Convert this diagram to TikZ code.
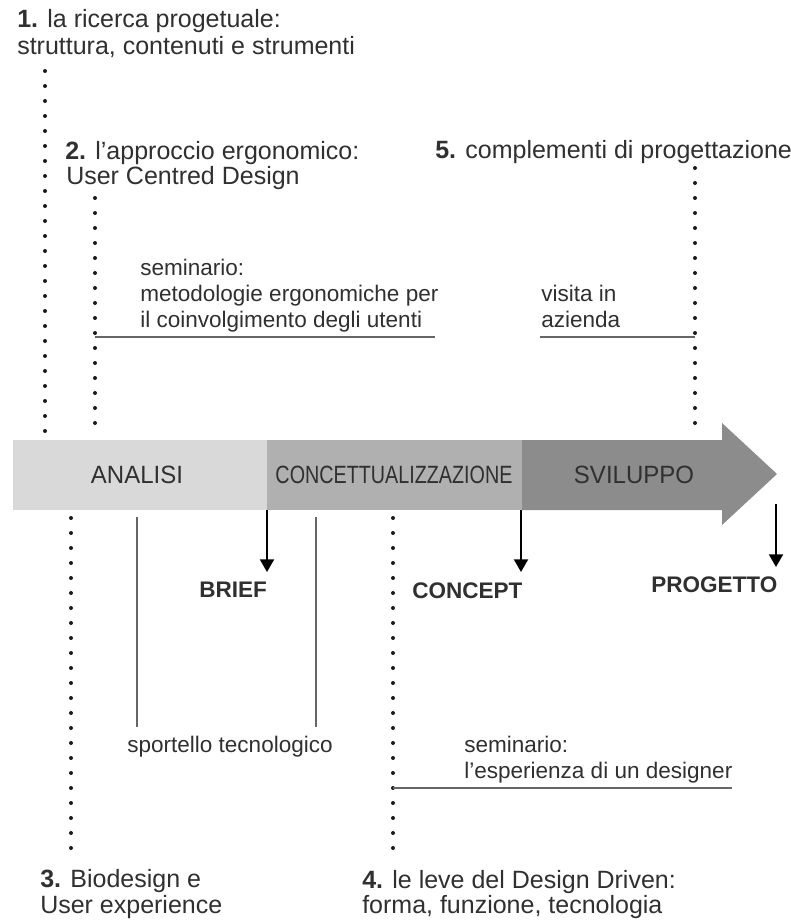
\documentclass[tikz,border=0pt]{standalone}
\usepackage{fontspec}
\setmainfont{Liberation Sans}
\newfontfamily\narrowfont[FakeStretch=0.79]{Liberation Sans}
\newfontfamily\semifont[FakeStretch=0.96]{Liberation Sans}
\usetikzlibrary{arrows.meta}
\definecolor{txt}{HTML}{303030}
\definecolor{phaseA}{HTML}{D9D9D9}
\definecolor{phaseB}{HTML}{B0B0B0}
\definecolor{phaseC}{HTML}{8C8C8C}
\definecolor{thinline}{HTML}{666666}
\definecolor{dotcol}{HTML}{1A1A1A}
\begin{document}
\begin{tikzpicture}[x=0.75pt,y=-0.75pt,
  big/.style={anchor=base west, inner sep=0pt, text=txt, font=\fontsize{18.75}{22}\selectfont},
  small/.style={anchor=base west, inner sep=0pt, text=txt, font=\fontsize{16.9}{20}\selectfont},
  bandlabel/.style={anchor=base, inner sep=0pt, text=txt, font=\fontsize{18.75}{22}\selectfont},
  result/.style={anchor=base west, inner sep=0pt, text=txt, font=\fontsize{16.9}{20}\selectfont\bfseries},
  dots/.style={draw=dotcol, line width=3pt, line cap=round, dash pattern=on 0pt off 11.25pt},
  thin/.style={draw=thinline, line width=1pt},
  outarrow/.style={draw=black, line width=1.5pt, -{Triangle[width=10.5pt,length=9.5pt]}}
]
\useasboundingbox[fill=white] (0,0) rectangle (790,920);

% ---- top labels
\node[big] (t1a) at (17,28) {\textbf{1.} la ricerca progetuale:};
\node[big] (t1b) at (17,55) {struttura, contenuti e strumenti};
\node[big] (t2a) at (65,160) {\textbf{2.} l’approccio ergonomico:};
\node[big] (t2b) at (66,185) {User Centred Design};
\node[big] (t5) at (435,158) {\textbf{5.} complementi di progettazione};

\node[small] (s1a) at (140,275) {seminario:};
\node[small] (s1b) at (140,301) {metodologie ergonomiche per};
\node[small] (s1c) at (140,327) {il coinvolgimento degli utenti};
\node[small] (v1a) at (541,301) {visita in};
\node[small] (v1b) at (541,327) {azienda};

% ---- dotted verticals (top)
\coordinate (d1s) at (45,71);  \coordinate (d1e) at (45,432);
\coordinate (d2s) at (95,198); \coordinate (d2e) at (95,432);
\coordinate (d5s) at (695,168);\coordinate (d5e) at (695,432);
\draw[dots] (d1s) -- (d1e);
\draw[dots] (d2s) -- (d2e);
\draw[dots] (d5s) -- (d5e);

% ---- seminar lines (top)
\coordinate (h1s) at (95,337);  \coordinate (h1e) at (435,337);
\coordinate (h2s) at (540,337); \coordinate (h2e) at (695,337);
\draw[thin] (h1s) -- (h1e);
\draw[thin] (h2s) -- (h2e);

% ---- phase band
\fill[phaseA] (13,440) rectangle (267,510);
\fill[phaseB] (267,440) rectangle (522,510);
\fill[phaseC] (522,440) -- (722,440) -- (722,423) -- (777,474) -- (722,525) -- (722,510) -- (522,510) -- cycle;
\node[bandlabel] (analisi) at (137,483) {\semifont ANALISI};
\node[bandlabel] (concett) at (394,483) {\narrowfont CONCETTUALIZZAZIONE};
\node[bandlabel] (sviluppo) at (634,483) {\semifont SVILUPPO};

% ---- output arrows
\coordinate (a1s) at (267,510); \coordinate (a1e) at (267,572);
\coordinate (a2s) at (521,510); \coordinate (a2e) at (521,572);
\coordinate (a3s) at (776,504); \coordinate (a3e) at (776,567);
\draw[outarrow] (a1s) -- (a1e);
\draw[outarrow] (a2s) -- (a2e);
\draw[outarrow] (a3s) -- (a3e);
\node[result] (brief) at (199,597) {BRIEF};
\node[result] (concept) at (412,598) {CONCEPT};
\node[result] (progetto) at (651,592) {PROGETTO};

% ---- bottom
\coordinate (d3s) at (71,518);  \coordinate (d3e) at (71,850);
\coordinate (d4s) at (393,518); \coordinate (d4e) at (393,850);
\draw[dots] (d3s) -- (d3e);
\draw[dots] (d4s) -- (d4e);
\coordinate (v1s) at (137,517); \coordinate (v1e) at (137,727);
\coordinate (v2s) at (316,517); \coordinate (v2e) at (316,727);
\draw[thin] (v1s) -- (v1e);
\draw[thin] (v2s) -- (v2e);
\node[small] (sport) at (127,752) {sportello tecnologico};
\node[small] (s2a) at (464,752) {seminario:};
\node[small] (s2b) at (464,778) {l’esperienza di un designer};
\coordinate (h3s) at (393,788); \coordinate (h3e) at (732,788);
\draw[thin] (h3s) -- (h3e);

\node[big] (t3a) at (40,887) {\textbf{3.} Biodesign e};
\node[big] (t3b) at (40,913) {User experience};
\node[big] (t4a) at (362,888) {\textbf{4.} le leve del Design Driven:};
\node[big] (t4b) at (362,913) {forma, funzione, tecnologia};
\end{tikzpicture}
\end{document}
